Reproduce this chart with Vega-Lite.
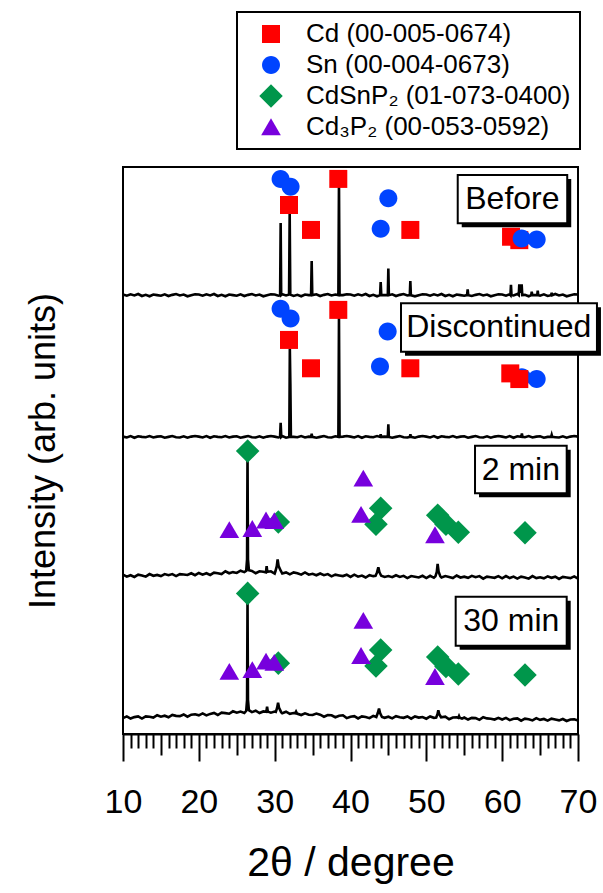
{
  "$schema": "https://vega.github.io/schema/vega-lite/v6.json",
  "autosize": {"type": "none"},
  "padding": {"left": 123, "top": 167, "right": 25, "bottom": 159},
  "width": 455,
  "height": 567,
  "config": {
    "font": "Liberation Sans",
    "view": {"stroke": "black", "strokeWidth": 2},
    "axis": {"grid": false},
    "legend": {"strokeWidth": 2}
  },
  "datasets": {
    "traces": [
      {"sample":"Before","angle":10,"intensity":77.5},{"sample":"Before","angle":10.5,"intensity":77.3},{"sample":"Before","angle":11,"intensity":77.55},{"sample":"Before","angle":11.5,"intensity":77.35},{"sample":"Before","angle":12,"intensity":77.6},{"sample":"Before","angle":12.5,"intensity":77.25},{"sample":"Before","angle":13,"intensity":77.45},{"sample":"Before","angle":13.5,"intensity":77.2},{"sample":"Before","angle":14,"intensity":77.5},{"sample":"Before","angle":14.5,"intensity":77.4},{"sample":"Before","angle":15,"intensity":77.3},{"sample":"Before","angle":15.5,"intensity":77.55},{"sample":"Before","angle":16,"intensity":77.25},{"sample":"Before","angle":16.5,"intensity":77.45},{"sample":"Before","angle":17,"intensity":77.6},{"sample":"Before","angle":17.5,"intensity":77.35},{"sample":"Before","angle":18,"intensity":77.5},{"sample":"Before","angle":18.5,"intensity":77.2},{"sample":"Before","angle":19,"intensity":77.4},{"sample":"Before","angle":19.5,"intensity":77.55},{"sample":"Before","angle":20,"intensity":77.5},{"sample":"Before","angle":20.5,"intensity":77.3},{"sample":"Before","angle":21,"intensity":77.55},{"sample":"Before","angle":21.5,"intensity":77.35},{"sample":"Before","angle":22,"intensity":77.6},{"sample":"Before","angle":22.5,"intensity":77.25},{"sample":"Before","angle":23,"intensity":77.45},{"sample":"Before","angle":23.5,"intensity":77.2},{"sample":"Before","angle":24,"intensity":77.5},{"sample":"Before","angle":24.5,"intensity":77.4},{"sample":"Before","angle":25,"intensity":77.3},{"sample":"Before","angle":25.5,"intensity":77.55},{"sample":"Before","angle":26,"intensity":77.25},{"sample":"Before","angle":26.5,"intensity":77.45},{"sample":"Before","angle":27,"intensity":77.6},{"sample":"Before","angle":27.5,"intensity":77.35},{"sample":"Before","angle":28,"intensity":77.5},{"sample":"Before","angle":28.5,"intensity":77.2},{"sample":"Before","angle":29,"intensity":77.4},{"sample":"Before","angle":29.5,"intensity":77.55},{"sample":"Before","angle":30,"intensity":77.5},{"sample":"Before","angle":30.5,"intensity":77.3},{"sample":"Before","angle":30.72,"intensity":77.4},{"sample":"Before","angle":30.79,"intensity":90.1},{"sample":"Before","angle":30.86,"intensity":77.4},{"sample":"Before","angle":31,"intensity":77.55},{"sample":"Before","angle":31.5,"intensity":77.35},{"sample":"Before","angle":31.9,"intensity":77.5},{"sample":"Before","angle":31.98,"intensity":91.9},{"sample":"Before","angle":32.06,"intensity":77.5},{"sample":"Before","angle":32.5,"intensity":77.25},{"sample":"Before","angle":33,"intensity":77.45},{"sample":"Before","angle":33.5,"intensity":77.2},{"sample":"Before","angle":34,"intensity":77.5},{"sample":"Before","angle":34.5,"intensity":77.4},{"sample":"Before","angle":34.8,"intensity":77.4},{"sample":"Before","angle":34.88,"intensity":83.4},{"sample":"Before","angle":34.96,"intensity":77.4},{"sample":"Before","angle":35.5,"intensity":77.55},{"sample":"Before","angle":36,"intensity":77.25},{"sample":"Before","angle":36.5,"intensity":77.45},{"sample":"Before","angle":37,"intensity":77.6},{"sample":"Before","angle":37.5,"intensity":77.35},{"sample":"Before","angle":38,"intensity":77.5},{"sample":"Before","angle":38.4,"intensity":77.4},{"sample":"Before","angle":38.48,"intensity":97.5},{"sample":"Before","angle":38.56,"intensity":77.4},{"sample":"Before","angle":39,"intensity":77.4},{"sample":"Before","angle":39.5,"intensity":77.55},{"sample":"Before","angle":40,"intensity":77.5},{"sample":"Before","angle":40.5,"intensity":77.3},{"sample":"Before","angle":41,"intensity":77.55},{"sample":"Before","angle":41.5,"intensity":77.35},{"sample":"Before","angle":42,"intensity":77.6},{"sample":"Before","angle":42.5,"intensity":77.25},{"sample":"Before","angle":43,"intensity":77.45},{"sample":"Before","angle":43.5,"intensity":77.2},{"sample":"Before","angle":43.9,"intensity":77.4},{"sample":"Before","angle":43.98,"intensity":79.7},{"sample":"Before","angle":44.06,"intensity":77.4},{"sample":"Before","angle":44.5,"intensity":77.4},{"sample":"Before","angle":44.92,"intensity":77.4},{"sample":"Before","angle":44.99,"intensity":82.1},{"sample":"Before","angle":45.06,"intensity":77.4},{"sample":"Before","angle":45.5,"intensity":77.55},{"sample":"Before","angle":46,"intensity":77.25},{"sample":"Before","angle":46.5,"intensity":77.45},{"sample":"Before","angle":47,"intensity":77.6},{"sample":"Before","angle":47.5,"intensity":77.35},{"sample":"Before","angle":47.82,"intensity":77.4},{"sample":"Before","angle":47.89,"intensity":79.9},{"sample":"Before","angle":47.96,"intensity":77.4},{"sample":"Before","angle":48.5,"intensity":77.2},{"sample":"Before","angle":49,"intensity":77.4},{"sample":"Before","angle":49.5,"intensity":77.55},{"sample":"Before","angle":50,"intensity":77.5},{"sample":"Before","angle":50.5,"intensity":77.3},{"sample":"Before","angle":51,"intensity":77.55},{"sample":"Before","angle":51.5,"intensity":77.35},{"sample":"Before","angle":52,"intensity":77.6},{"sample":"Before","angle":52.5,"intensity":77.25},{"sample":"Before","angle":53,"intensity":77.45},{"sample":"Before","angle":53.5,"intensity":77.2},{"sample":"Before","angle":54,"intensity":77.5},{"sample":"Before","angle":54.5,"intensity":77.4},{"sample":"Before","angle":55,"intensity":77.3},{"sample":"Before","angle":55.37,"intensity":77.4},{"sample":"Before","angle":55.45,"intensity":78.4},{"sample":"Before","angle":55.53,"intensity":77.4},{"sample":"Before","angle":56,"intensity":77.25},{"sample":"Before","angle":56.5,"intensity":77.45},{"sample":"Before","angle":57,"intensity":77.6},{"sample":"Before","angle":57.5,"intensity":77.35},{"sample":"Before","angle":58,"intensity":77.5},{"sample":"Before","angle":58.5,"intensity":77.2},{"sample":"Before","angle":59,"intensity":77.4},{"sample":"Before","angle":59.5,"intensity":77.55},{"sample":"Before","angle":60,"intensity":77.5},{"sample":"Before","angle":60.5,"intensity":77.3},{"sample":"Before","angle":61,"intensity":77.55},{"sample":"Before","angle":61.09,"intensity":77.4},{"sample":"Before","angle":61.16,"intensity":79.2},{"sample":"Before","angle":61.23,"intensity":77.4},{"sample":"Before","angle":61.5,"intensity":77.35},{"sample":"Before","angle":62,"intensity":77.6},{"sample":"Before","angle":62.19,"intensity":77.4},{"sample":"Before","angle":62.26,"intensity":79.3},{"sample":"Before","angle":62.4,"intensity":77.8},{"sample":"Before","angle":62.57,"intensity":79.3},{"sample":"Before","angle":62.65,"intensity":77.4},{"sample":"Before","angle":63,"intensity":77.45},{"sample":"Before","angle":63.5,"intensity":77.2},{"sample":"Before","angle":63.83,"intensity":77.4},{"sample":"Before","angle":63.9,"intensity":78.0},{"sample":"Before","angle":63.97,"intensity":77.4},{"sample":"Before","angle":64.5,"intensity":77.4},{"sample":"Before","angle":64.62,"intensity":77.4},{"sample":"Before","angle":64.69,"intensity":78.2},{"sample":"Before","angle":64.76,"intensity":77.4},{"sample":"Before","angle":65,"intensity":77.3},{"sample":"Before","angle":65.5,"intensity":77.55},{"sample":"Before","angle":66,"intensity":77.25},{"sample":"Before","angle":66.46,"intensity":77.4},{"sample":"Before","angle":66.53,"intensity":77.8},{"sample":"Before","angle":66.6,"intensity":77.4},{"sample":"Before","angle":67,"intensity":77.6},{"sample":"Before","angle":67.5,"intensity":77.35},{"sample":"Before","angle":68,"intensity":77.5},{"sample":"Before","angle":68.5,"intensity":77.2},{"sample":"Before","angle":69,"intensity":77.4},{"sample":"Before","angle":69.5,"intensity":77.55},{"sample":"Before","angle":70,"intensity":77.5},

      {"sample":"Discontinued","angle":10,"intensity":52.45},{"sample":"Discontinued","angle":10.5,"intensity":52.3},{"sample":"Discontinued","angle":11,"intensity":52.55},{"sample":"Discontinued","angle":11.5,"intensity":52.25},{"sample":"Discontinued","angle":12,"intensity":52.5},{"sample":"Discontinued","angle":12.5,"intensity":52.4},{"sample":"Discontinued","angle":13,"intensity":52.35},{"sample":"Discontinued","angle":13.5,"intensity":52.55},{"sample":"Discontinued","angle":14,"intensity":52.3},{"sample":"Discontinued","angle":14.5,"intensity":52.45},{"sample":"Discontinued","angle":15,"intensity":52.5},{"sample":"Discontinued","angle":15.5,"intensity":52.25},{"sample":"Discontinued","angle":16,"intensity":52.4},{"sample":"Discontinued","angle":16.5,"intensity":52.55},{"sample":"Discontinued","angle":17,"intensity":52.35},{"sample":"Discontinued","angle":17.5,"intensity":52.3},{"sample":"Discontinued","angle":18,"intensity":52.5},{"sample":"Discontinued","angle":18.5,"intensity":52.25},{"sample":"Discontinued","angle":19,"intensity":52.45},{"sample":"Discontinued","angle":19.5,"intensity":52.55},{"sample":"Discontinued","angle":20,"intensity":52.45},{"sample":"Discontinued","angle":20.5,"intensity":52.3},{"sample":"Discontinued","angle":21,"intensity":52.55},{"sample":"Discontinued","angle":21.5,"intensity":52.25},{"sample":"Discontinued","angle":22,"intensity":52.5},{"sample":"Discontinued","angle":22.5,"intensity":52.4},{"sample":"Discontinued","angle":23,"intensity":52.35},{"sample":"Discontinued","angle":23.5,"intensity":52.55},{"sample":"Discontinued","angle":24,"intensity":52.3},{"sample":"Discontinued","angle":24.5,"intensity":52.45},{"sample":"Discontinued","angle":25,"intensity":52.5},{"sample":"Discontinued","angle":25.5,"intensity":52.25},{"sample":"Discontinued","angle":26,"intensity":52.4},{"sample":"Discontinued","angle":26.5,"intensity":52.55},{"sample":"Discontinued","angle":27,"intensity":52.35},{"sample":"Discontinued","angle":27.5,"intensity":52.3},{"sample":"Discontinued","angle":28,"intensity":52.5},{"sample":"Discontinued","angle":28.5,"intensity":52.25},{"sample":"Discontinued","angle":29,"intensity":52.45},{"sample":"Discontinued","angle":29.5,"intensity":52.55},{"sample":"Discontinued","angle":30,"intensity":52.45},{"sample":"Discontinued","angle":30.5,"intensity":52.3},{"sample":"Discontinued","angle":30.71,"intensity":52.4},{"sample":"Discontinued","angle":30.79,"intensity":54.9},{"sample":"Discontinued","angle":30.87,"intensity":52.4},{"sample":"Discontinued","angle":31,"intensity":52.55},{"sample":"Discontinued","angle":31.5,"intensity":52.25},{"sample":"Discontinued","angle":31.93,"intensity":52.4},{"sample":"Discontinued","angle":32.0,"intensity":68.0},{"sample":"Discontinued","angle":32.07,"intensity":61.8},{"sample":"Discontinued","angle":32.14,"intensity":52.4},{"sample":"Discontinued","angle":32.5,"intensity":52.4},{"sample":"Discontinued","angle":33,"intensity":52.35},{"sample":"Discontinued","angle":33.5,"intensity":52.55},{"sample":"Discontinued","angle":34,"intensity":52.3},{"sample":"Discontinued","angle":34.5,"intensity":52.45},{"sample":"Discontinued","angle":34.82,"intensity":52.4},{"sample":"Discontinued","angle":34.88,"intensity":52.95},{"sample":"Discontinued","angle":34.94,"intensity":52.4},{"sample":"Discontinued","angle":35.5,"intensity":52.25},{"sample":"Discontinued","angle":36,"intensity":52.4},{"sample":"Discontinued","angle":36.5,"intensity":52.55},{"sample":"Discontinued","angle":37,"intensity":52.35},{"sample":"Discontinued","angle":37.5,"intensity":52.3},{"sample":"Discontinued","angle":38,"intensity":52.5},{"sample":"Discontinued","angle":38.4,"intensity":52.4},{"sample":"Discontinued","angle":38.48,"intensity":73.5},{"sample":"Discontinued","angle":38.56,"intensity":52.4},{"sample":"Discontinued","angle":39,"intensity":52.45},{"sample":"Discontinued","angle":39.5,"intensity":52.55},{"sample":"Discontinued","angle":40,"intensity":52.45},{"sample":"Discontinued","angle":40.5,"intensity":52.3},{"sample":"Discontinued","angle":41,"intensity":52.55},{"sample":"Discontinued","angle":41.5,"intensity":52.25},{"sample":"Discontinued","angle":42,"intensity":52.5},{"sample":"Discontinued","angle":42.5,"intensity":52.4},{"sample":"Discontinued","angle":43,"intensity":52.35},{"sample":"Discontinued","angle":43.5,"intensity":52.55},{"sample":"Discontinued","angle":43.92,"intensity":52.4},{"sample":"Discontinued","angle":43.98,"intensity":52.85},{"sample":"Discontinued","angle":44.04,"intensity":52.4},{"sample":"Discontinued","angle":44.5,"intensity":52.45},{"sample":"Discontinued","angle":44.92,"intensity":52.4},{"sample":"Discontinued","angle":44.99,"intensity":54.6},{"sample":"Discontinued","angle":45.06,"intensity":52.4},{"sample":"Discontinued","angle":45.5,"intensity":52.25},{"sample":"Discontinued","angle":46,"intensity":52.4},{"sample":"Discontinued","angle":46.5,"intensity":52.55},{"sample":"Discontinued","angle":47,"intensity":52.35},{"sample":"Discontinued","angle":47.5,"intensity":52.3},{"sample":"Discontinued","angle":47.84,"intensity":52.4},{"sample":"Discontinued","angle":47.9,"intensity":52.85},{"sample":"Discontinued","angle":47.96,"intensity":52.4},{"sample":"Discontinued","angle":48.5,"intensity":52.25},{"sample":"Discontinued","angle":49,"intensity":52.45},{"sample":"Discontinued","angle":49.5,"intensity":52.55},{"sample":"Discontinued","angle":50,"intensity":52.45},{"sample":"Discontinued","angle":50.5,"intensity":52.3},{"sample":"Discontinued","angle":51,"intensity":52.55},{"sample":"Discontinued","angle":51.5,"intensity":52.25},{"sample":"Discontinued","angle":52,"intensity":52.5},{"sample":"Discontinued","angle":52.5,"intensity":52.4},{"sample":"Discontinued","angle":53,"intensity":52.35},{"sample":"Discontinued","angle":53.5,"intensity":52.55},{"sample":"Discontinued","angle":54,"intensity":52.3},{"sample":"Discontinued","angle":54.5,"intensity":52.45},{"sample":"Discontinued","angle":55,"intensity":52.5},{"sample":"Discontinued","angle":55.5,"intensity":52.25},{"sample":"Discontinued","angle":56,"intensity":52.4},{"sample":"Discontinued","angle":56.5,"intensity":52.55},{"sample":"Discontinued","angle":57,"intensity":52.35},{"sample":"Discontinued","angle":57.5,"intensity":52.3},{"sample":"Discontinued","angle":58,"intensity":52.5},{"sample":"Discontinued","angle":58.5,"intensity":52.25},{"sample":"Discontinued","angle":59,"intensity":52.45},{"sample":"Discontinued","angle":59.5,"intensity":52.55},{"sample":"Discontinued","angle":60,"intensity":52.45},{"sample":"Discontinued","angle":60.5,"intensity":52.3},{"sample":"Discontinued","angle":61,"intensity":52.55},{"sample":"Discontinued","angle":61.5,"intensity":52.25},{"sample":"Discontinued","angle":62,"intensity":52.5},{"sample":"Discontinued","angle":62.52,"intensity":52.4},{"sample":"Discontinued","angle":62.6,"intensity":53.0},{"sample":"Discontinued","angle":62.68,"intensity":52.4},{"sample":"Discontinued","angle":63,"intensity":52.35},{"sample":"Discontinued","angle":63.5,"intensity":52.55},{"sample":"Discontinued","angle":64,"intensity":52.3},{"sample":"Discontinued","angle":64.5,"intensity":52.45},{"sample":"Discontinued","angle":65,"intensity":52.5},{"sample":"Discontinued","angle":65.5,"intensity":52.25},{"sample":"Discontinued","angle":66,"intensity":52.4},{"sample":"Discontinued","angle":66.46,"intensity":52.4},{"sample":"Discontinued","angle":66.53,"intensity":52.75},{"sample":"Discontinued","angle":66.6,"intensity":52.4},{"sample":"Discontinued","angle":67,"intensity":52.35},{"sample":"Discontinued","angle":67.5,"intensity":52.3},{"sample":"Discontinued","angle":68,"intensity":52.5},{"sample":"Discontinued","angle":68.5,"intensity":52.25},{"sample":"Discontinued","angle":69,"intensity":52.45},{"sample":"Discontinued","angle":69.5,"intensity":52.55},{"sample":"Discontinued","angle":70,"intensity":52.45},

      {"sample":"2 min","angle":10,"intensity":28.1},{"sample":"2 min","angle":10.5,"intensity":27.75},{"sample":"2 min","angle":11,"intensity":28.0},{"sample":"2 min","angle":11.5,"intensity":27.7},{"sample":"2 min","angle":12,"intensity":28.1},{"sample":"2 min","angle":12.5,"intensity":27.95},{"sample":"2 min","angle":13,"intensity":27.75},{"sample":"2 min","angle":13.5,"intensity":28.2},{"sample":"2 min","angle":14,"intensity":27.9},{"sample":"2 min","angle":14.5,"intensity":28.05},{"sample":"2 min","angle":15,"intensity":27.85},{"sample":"2 min","angle":15.5,"intensity":28.2},{"sample":"2 min","angle":16,"intensity":28.0},{"sample":"2 min","angle":16.5,"intensity":28.2},{"sample":"2 min","angle":17,"intensity":27.85},{"sample":"2 min","angle":17.5,"intensity":28.2},{"sample":"2 min","angle":18,"intensity":28.12},{"sample":"2 min","angle":18.5,"intensity":28.05},{"sample":"2 min","angle":19,"intensity":28.35},{"sample":"2 min","angle":19.5,"intensity":28.0},{"sample":"2 min","angle":20,"intensity":28.4},{"sample":"2 min","angle":20.5,"intensity":28.1},{"sample":"2 min","angle":21,"intensity":28.35},{"sample":"2 min","angle":21.5,"intensity":28.05},{"sample":"2 min","angle":22,"intensity":28.45},{"sample":"2 min","angle":22.5,"intensity":28.35},{"sample":"2 min","angle":23,"intensity":28.2},{"sample":"2 min","angle":23.5,"intensity":28.7},{"sample":"2 min","angle":24,"intensity":28.35},{"sample":"2 min","angle":24.5,"intensity":28.55},{"sample":"2 min","angle":25,"intensity":28.4},{"sample":"2 min","angle":25.5,"intensity":28.8},{"sample":"2 min","angle":26,"intensity":28.55},{"sample":"2 min","angle":26.25,"intensity":28.8},{"sample":"2 min","angle":26.36,"intensity":30.8},{"sample":"2 min","angle":26.42,"intensity":49.5},{"sample":"2 min","angle":26.48,"intensity":30.8},{"sample":"2 min","angle":26.6,"intensity":28.9},{"sample":"2 min","angle":27,"intensity":28.75},{"sample":"2 min","angle":27.5,"intensity":28.35},{"sample":"2 min","angle":28,"intensity":28.7},{"sample":"2 min","angle":28.5,"intensity":28.6},{"sample":"2 min","angle":28.85,"intensity":28.5},{"sample":"2 min","angle":28.94,"intensity":29.6},{"sample":"2 min","angle":29.03,"intensity":28.6},{"sample":"2 min","angle":29.5,"intensity":28.7},{"sample":"2 min","angle":30,"intensity":28.3},{"sample":"2 min","angle":30.1,"intensity":28.7},{"sample":"2 min","angle":30.28,"intensity":29.6},{"sample":"2 min","angle":30.39,"intensity":30.8},{"sample":"2 min","angle":30.52,"intensity":29.6},{"sample":"2 min","angle":30.8,"intensity":28.8},{"sample":"2 min","angle":31,"intensity":28.3},{"sample":"2 min","angle":31.5,"intensity":28.5},{"sample":"2 min","angle":32,"intensity":28.15},{"sample":"2 min","angle":32.5,"intensity":28.5},{"sample":"2 min","angle":33,"intensity":28.35},{"sample":"2 min","angle":33.5,"intensity":28.1},{"sample":"2 min","angle":34,"intensity":28.5},{"sample":"2 min","angle":34.5,"intensity":28.1},{"sample":"2 min","angle":35,"intensity":28.25},{"sample":"2 min","angle":35.5,"intensity":28.0},{"sample":"2 min","angle":36,"intensity":28.3},{"sample":"2 min","angle":36.5,"intensity":28.0},{"sample":"2 min","angle":37,"intensity":28.2},{"sample":"2 min","angle":37.5,"intensity":27.8},{"sample":"2 min","angle":38,"intensity":28.1},{"sample":"2 min","angle":38.5,"intensity":27.97},{"sample":"2 min","angle":39,"intensity":27.85},{"sample":"2 min","angle":39.5,"intensity":28.1},{"sample":"2 min","angle":40,"intensity":27.7},{"sample":"2 min","angle":40.5,"intensity":28.1},{"sample":"2 min","angle":41,"intensity":27.75},{"sample":"2 min","angle":41.5,"intensity":27.95},{"sample":"2 min","angle":42,"intensity":27.6},{"sample":"2 min","angle":42.5,"intensity":28.0},{"sample":"2 min","angle":43,"intensity":27.84},{"sample":"2 min","angle":43.3,"intensity":27.9},{"sample":"2 min","angle":43.5,"intensity":28.5},{"sample":"2 min","angle":43.67,"intensity":29.4},{"sample":"2 min","angle":43.82,"intensity":28.5},{"sample":"2 min","angle":44.05,"intensity":27.9},{"sample":"2 min","angle":44.5,"intensity":27.7},{"sample":"2 min","angle":45,"intensity":27.85},{"sample":"2 min","angle":45.5,"intensity":27.65},{"sample":"2 min","angle":46,"intensity":28.0},{"sample":"2 min","angle":46.5,"intensity":27.7},{"sample":"2 min","angle":47,"intensity":27.9},{"sample":"2 min","angle":47.5,"intensity":27.5},{"sample":"2 min","angle":48,"intensity":27.85},{"sample":"2 min","angle":48.5,"intensity":27.73},{"sample":"2 min","angle":49,"intensity":27.6},{"sample":"2 min","angle":49.5,"intensity":27.9},{"sample":"2 min","angle":50,"intensity":27.5},{"sample":"2 min","angle":50.5,"intensity":27.9},{"sample":"2 min","angle":51,"intensity":27.55},{"sample":"2 min","angle":51.2,"intensity":27.8},{"sample":"2 min","angle":51.38,"intensity":28.6},{"sample":"2 min","angle":51.49,"intensity":30.0},{"sample":"2 min","angle":51.62,"intensity":28.6},{"sample":"2 min","angle":51.85,"intensity":27.8},{"sample":"2 min","angle":52,"intensity":27.6},{"sample":"2 min","angle":52.5,"intensity":27.85},{"sample":"2 min","angle":53,"intensity":27.7},{"sample":"2 min","angle":53.5,"intensity":27.5},{"sample":"2 min","angle":54,"intensity":27.95},{"sample":"2 min","angle":54.5,"intensity":27.6},{"sample":"2 min","angle":55,"intensity":27.75},{"sample":"2 min","angle":55.5,"intensity":27.55},{"sample":"2 min","angle":56,"intensity":27.9},{"sample":"2 min","angle":56.5,"intensity":27.65},{"sample":"2 min","angle":57,"intensity":27.85},{"sample":"2 min","angle":57.5,"intensity":27.4},{"sample":"2 min","angle":58,"intensity":27.75},{"sample":"2 min","angle":58.5,"intensity":27.66},{"sample":"2 min","angle":59,"intensity":27.55},{"sample":"2 min","angle":59.5,"intensity":27.85},{"sample":"2 min","angle":60,"intensity":27.45},{"sample":"2 min","angle":60.5,"intensity":27.85},{"sample":"2 min","angle":61,"intensity":27.5},{"sample":"2 min","angle":61.5,"intensity":27.75},{"sample":"2 min","angle":62,"intensity":27.4},{"sample":"2 min","angle":62.5,"intensity":27.75},{"sample":"2 min","angle":63,"intensity":27.62},{"sample":"2 min","angle":63.5,"intensity":27.4},{"sample":"2 min","angle":64,"intensity":27.85},{"sample":"2 min","angle":64.5,"intensity":27.5},{"sample":"2 min","angle":65,"intensity":27.65},{"sample":"2 min","angle":65.5,"intensity":27.45},{"sample":"2 min","angle":66,"intensity":27.8},{"sample":"2 min","angle":66.5,"intensity":27.55},{"sample":"2 min","angle":67,"intensity":27.75},{"sample":"2 min","angle":67.5,"intensity":27.35},{"sample":"2 min","angle":68,"intensity":27.7},{"sample":"2 min","angle":68.5,"intensity":27.6},{"sample":"2 min","angle":69,"intensity":27.5},{"sample":"2 min","angle":69.5,"intensity":27.8},{"sample":"2 min","angle":70,"intensity":27.4},

      {"sample":"30 min","angle":10,"intensity":2.8},{"sample":"30 min","angle":10.5,"intensity":3.1},{"sample":"30 min","angle":11,"intensity":2.72},{"sample":"30 min","angle":11.5,"intensity":2.98},{"sample":"30 min","angle":12,"intensity":3.1},{"sample":"30 min","angle":12.5,"intensity":2.72},{"sample":"30 min","angle":13,"intensity":3.1},{"sample":"30 min","angle":13.5,"intensity":3.03},{"sample":"30 min","angle":14,"intensity":2.9},{"sample":"30 min","angle":14.5,"intensity":3.32},{"sample":"30 min","angle":15,"intensity":3.05},{"sample":"30 min","angle":15.5,"intensity":3.23},{"sample":"30 min","angle":16,"intensity":2.95},{"sample":"30 min","angle":16.5,"intensity":3.37},{"sample":"30 min","angle":17,"intensity":3.2},{"sample":"30 min","angle":17.5,"intensity":3.15},{"sample":"30 min","angle":18,"intensity":3.45},{"sample":"30 min","angle":18.5,"intensity":3.05},{"sample":"30 min","angle":19,"intensity":3.4},{"sample":"30 min","angle":19.5,"intensity":3.47},{"sample":"30 min","angle":20,"intensity":3.3},{"sample":"30 min","angle":20.5,"intensity":3.64},{"sample":"30 min","angle":21,"intensity":3.28},{"sample":"30 min","angle":21.5,"intensity":3.55},{"sample":"30 min","angle":22,"intensity":3.72},{"sample":"30 min","angle":22.5,"intensity":3.35},{"sample":"30 min","angle":23,"intensity":3.76},{"sample":"30 min","angle":23.5,"intensity":3.68},{"sample":"30 min","angle":24,"intensity":3.57},{"sample":"30 min","angle":24.5,"intensity":4.0},{"sample":"30 min","angle":25,"intensity":3.75},{"sample":"30 min","angle":25.5,"intensity":3.95},{"sample":"30 min","angle":26,"intensity":3.7},{"sample":"30 min","angle":26.25,"intensity":4.1},{"sample":"30 min","angle":26.36,"intensity":6.0},{"sample":"30 min","angle":26.42,"intensity":23.5},{"sample":"30 min","angle":26.48,"intensity":6.0},{"sample":"30 min","angle":26.6,"intensity":4.2},{"sample":"30 min","angle":27,"intensity":3.85},{"sample":"30 min","angle":27.5,"intensity":4.1},{"sample":"30 min","angle":28,"intensity":3.7},{"sample":"30 min","angle":28.5,"intensity":3.98},{"sample":"30 min","angle":28.9,"intensity":3.9},{"sample":"30 min","angle":29.0,"intensity":4.8},{"sample":"30 min","angle":29.1,"intensity":3.95},{"sample":"30 min","angle":29.5,"intensity":3.75},{"sample":"30 min","angle":30,"intensity":3.95},{"sample":"30 min","angle":30.15,"intensity":3.9},{"sample":"30 min","angle":30.32,"intensity":4.6},{"sample":"30 min","angle":30.45,"intensity":5.5},{"sample":"30 min","angle":30.58,"intensity":4.6},{"sample":"30 min","angle":30.85,"intensity":3.85},{"sample":"30 min","angle":31,"intensity":3.65},{"sample":"30 min","angle":31.5,"intensity":3.93},{"sample":"30 min","angle":32,"intensity":3.55},{"sample":"30 min","angle":32.5,"intensity":3.7},{"sample":"30 min","angle":32.7,"intensity":3.65},{"sample":"30 min","angle":32.82,"intensity":3.95},{"sample":"30 min","angle":32.95,"intensity":3.6},{"sample":"30 min","angle":33.5,"intensity":3.35},{"sample":"30 min","angle":34,"intensity":3.65},{"sample":"30 min","angle":34.5,"intensity":3.4},{"sample":"30 min","angle":35,"intensity":3.35},{"sample":"30 min","angle":35.5,"intensity":3.6},{"sample":"30 min","angle":36,"intensity":3.4},{"sample":"30 min","angle":36.5,"intensity":3.05},{"sample":"30 min","angle":37,"intensity":3.35},{"sample":"30 min","angle":37.5,"intensity":3.3},{"sample":"30 min","angle":38,"intensity":2.95},{"sample":"30 min","angle":38.5,"intensity":3.23},{"sample":"30 min","angle":39,"intensity":3.3},{"sample":"30 min","angle":39.5,"intensity":2.8},{"sample":"30 min","angle":40,"intensity":3.05},{"sample":"30 min","angle":40.5,"intensity":3.15},{"sample":"30 min","angle":41,"intensity":2.75},{"sample":"30 min","angle":41.5,"intensity":3.1},{"sample":"30 min","angle":42,"intensity":3.0},{"sample":"30 min","angle":42.5,"intensity":2.8},{"sample":"30 min","angle":43,"intensity":3.2},{"sample":"30 min","angle":43.4,"intensity":3.0},{"sample":"30 min","angle":43.6,"intensity":3.7},{"sample":"30 min","angle":43.76,"intensity":4.5},{"sample":"30 min","angle":43.9,"intensity":3.7},{"sample":"30 min","angle":44.15,"intensity":3.0},{"sample":"30 min","angle":44.5,"intensity":2.85},{"sample":"30 min","angle":45,"intensity":3.05},{"sample":"30 min","angle":45.5,"intensity":2.75},{"sample":"30 min","angle":46,"intensity":3.15},{"sample":"30 min","angle":46.5,"intensity":2.95},{"sample":"30 min","angle":47,"intensity":2.85},{"sample":"30 min","angle":47.5,"intensity":3.1},{"sample":"30 min","angle":48,"intensity":2.7},{"sample":"30 min","angle":48.5,"intensity":3.1},{"sample":"30 min","angle":49,"intensity":2.9},{"sample":"30 min","angle":49.5,"intensity":3.0},{"sample":"30 min","angle":50,"intensity":2.7},{"sample":"30 min","angle":50.5,"intensity":3.1},{"sample":"30 min","angle":51,"intensity":2.85},{"sample":"30 min","angle":51.3,"intensity":2.9},{"sample":"30 min","angle":51.47,"intensity":3.5},{"sample":"30 min","angle":51.58,"intensity":4.2},{"sample":"30 min","angle":51.7,"intensity":3.5},{"sample":"30 min","angle":51.95,"intensity":2.95},{"sample":"30 min","angle":52.5,"intensity":3.05},{"sample":"30 min","angle":53,"intensity":2.6},{"sample":"30 min","angle":53.5,"intensity":2.9},{"sample":"30 min","angle":54,"intensity":2.95},{"sample":"30 min","angle":54.22,"intensity":2.85},{"sample":"30 min","angle":54.31,"intensity":3.15},{"sample":"30 min","angle":54.4,"intensity":2.85},{"sample":"30 min","angle":54.7,"intensity":2.7},{"sample":"30 min","angle":55,"intensity":2.9},{"sample":"30 min","angle":55.5,"intensity":2.55},{"sample":"30 min","angle":56,"intensity":2.85},{"sample":"30 min","angle":56.5,"intensity":2.8},{"sample":"30 min","angle":57,"intensity":2.5},{"sample":"30 min","angle":57.5,"intensity":2.95},{"sample":"30 min","angle":58,"intensity":2.75},{"sample":"30 min","angle":58.5,"intensity":2.7},{"sample":"30 min","angle":59,"intensity":2.55},{"sample":"30 min","angle":59.5,"intensity":2.85},{"sample":"30 min","angle":60,"intensity":2.55},{"sample":"30 min","angle":60.5,"intensity":2.85},{"sample":"30 min","angle":61,"intensity":2.45},{"sample":"30 min","angle":61.5,"intensity":2.7},{"sample":"30 min","angle":62,"intensity":2.75},{"sample":"30 min","angle":62.5,"intensity":2.35},{"sample":"30 min","angle":63,"intensity":2.7},{"sample":"30 min","angle":63.5,"intensity":2.6},{"sample":"30 min","angle":64,"intensity":2.4},{"sample":"30 min","angle":64.5,"intensity":2.8},{"sample":"30 min","angle":65,"intensity":2.5},{"sample":"30 min","angle":65.5,"intensity":2.65},{"sample":"30 min","angle":66,"intensity":2.35},{"sample":"30 min","angle":66.5,"intensity":2.7},{"sample":"30 min","angle":67,"intensity":2.55},{"sample":"30 min","angle":67.5,"intensity":2.4},{"sample":"30 min","angle":68,"intensity":2.65},{"sample":"30 min","angle":68.5,"intensity":2.3},{"sample":"30 min","angle":69,"intensity":2.55},{"sample":"30 min","angle":69.5,"intensity":2.6},{"sample":"30 min","angle":70,"intensity":2.4}
    ],
    "markers": [
      {"sample":"Before","phase":"Cd (00-005-0674)","angle":31.89,"intensity":93.3},
      {"sample":"Before","phase":"Cd (00-005-0674)","angle":34.79,"intensity":88.9},
      {"sample":"Before","phase":"Cd (00-005-0674)","angle":38.39,"intensity":97.9},
      {"sample":"Before","phase":"Cd (00-005-0674)","angle":47.89,"intensity":88.9},
      {"sample":"Before","phase":"Cd (00-005-0674)","angle":61.17,"intensity":87.7},
      {"sample":"Before","phase":"Cd (00-005-0674)","angle":62.26,"intensity":87.1},
      {"sample":"Before","phase":"Sn (00-004-0673)","angle":30.78,"intensity":97.9},
      {"sample":"Before","phase":"Sn (00-004-0673)","angle":32.1,"intensity":96.5},
      {"sample":"Before","phase":"Sn (00-004-0673)","angle":44.99,"intensity":94.5},
      {"sample":"Before","phase":"Sn (00-004-0673)","angle":43.98,"intensity":89.1},
      {"sample":"Before","phase":"Sn (00-004-0673)","angle":62.57,"intensity":87.4},
      {"sample":"Before","phase":"Sn (00-004-0673)","angle":64.55,"intensity":87.2},
      {"sample":"Discontinued","phase":"Sn (00-004-0673)","angle":30.78,"intensity":75.0},
      {"sample":"Discontinued","phase":"Sn (00-004-0673)","angle":32.1,"intensity":73.3},
      {"sample":"Discontinued","phase":"Sn (00-004-0673)","angle":44.9,"intensity":71.0},
      {"sample":"Discontinued","phase":"Sn (00-004-0673)","angle":43.89,"intensity":64.8},
      {"sample":"Discontinued","phase":"Sn (00-004-0673)","angle":62.6,"intensity":62.9},
      {"sample":"Discontinued","phase":"Sn (00-004-0673)","angle":64.55,"intensity":62.6},
      {"sample":"Discontinued","phase":"Cd (00-005-0674)","angle":31.89,"intensity":69.5},
      {"sample":"Discontinued","phase":"Cd (00-005-0674)","angle":34.79,"intensity":64.5},
      {"sample":"Discontinued","phase":"Cd (00-005-0674)","angle":38.39,"intensity":74.8},
      {"sample":"Discontinued","phase":"Cd (00-005-0674)","angle":47.89,"intensity":64.5},
      {"sample":"Discontinued","phase":"Cd (00-005-0674)","angle":61.07,"intensity":63.6},
      {"sample":"Discontinued","phase":"Cd (00-005-0674)","angle":62.26,"intensity":62.6},
      {"sample":"2 min","phase":"CdSnP₂ (01-073-0400)","angle":26.44,"intensity":49.9},
      {"sample":"2 min","phase":"CdSnP₂ (01-073-0400)","angle":30.48,"intensity":37.4},
      {"sample":"2 min","phase":"CdSnP₂ (01-073-0400)","angle":43.98,"intensity":39.8},
      {"sample":"2 min","phase":"CdSnP₂ (01-073-0400)","angle":43.36,"intensity":37.0},
      {"sample":"2 min","phase":"CdSnP₂ (01-073-0400)","angle":51.5,"intensity":38.6},
      {"sample":"2 min","phase":"CdSnP₂ (01-073-0400)","angle":52.59,"intensity":37.0},
      {"sample":"2 min","phase":"CdSnP₂ (01-073-0400)","angle":54.22,"intensity":35.6},
      {"sample":"2 min","phase":"CdSnP₂ (01-073-0400)","angle":63.01,"intensity":35.5},
      {"sample":"2 min","phase":"Cd₃P₂ (00-053-0592)","angle":24.02,"intensity":36.0},
      {"sample":"2 min","phase":"Cd₃P₂ (00-053-0592)","angle":27.05,"intensity":36.2},
      {"sample":"2 min","phase":"Cd₃P₂ (00-053-0592)","angle":28.86,"intensity":37.7},
      {"sample":"2 min","phase":"Cd₃P₂ (00-053-0592)","angle":29.95,"intensity":37.6},
      {"sample":"2 min","phase":"Cd₃P₂ (00-053-0592)","angle":41.69,"intensity":45.1},
      {"sample":"2 min","phase":"Cd₃P₂ (00-053-0592)","angle":41.39,"intensity":38.7},
      {"sample":"2 min","phase":"Cd₃P₂ (00-053-0592)","angle":51.14,"intensity":35.1},
      {"sample":"30 min","phase":"CdSnP₂ (01-073-0400)","angle":26.44,"intensity":24.8},
      {"sample":"30 min","phase":"CdSnP₂ (01-073-0400)","angle":30.48,"intensity":12.5},
      {"sample":"30 min","phase":"CdSnP₂ (01-073-0400)","angle":43.98,"intensity":14.8},
      {"sample":"30 min","phase":"CdSnP₂ (01-073-0400)","angle":43.36,"intensity":12.0},
      {"sample":"30 min","phase":"CdSnP₂ (01-073-0400)","angle":51.5,"intensity":13.6},
      {"sample":"30 min","phase":"CdSnP₂ (01-073-0400)","angle":52.59,"intensity":11.9},
      {"sample":"30 min","phase":"CdSnP₂ (01-073-0400)","angle":54.22,"intensity":10.6},
      {"sample":"30 min","phase":"CdSnP₂ (01-073-0400)","angle":63.01,"intensity":10.4},
      {"sample":"30 min","phase":"Cd₃P₂ (00-053-0592)","angle":24.02,"intensity":11.0},
      {"sample":"30 min","phase":"Cd₃P₂ (00-053-0592)","angle":27.05,"intensity":11.3},
      {"sample":"30 min","phase":"Cd₃P₂ (00-053-0592)","angle":28.86,"intensity":12.8},
      {"sample":"30 min","phase":"Cd₃P₂ (00-053-0592)","angle":29.95,"intensity":12.6},
      {"sample":"30 min","phase":"Cd₃P₂ (00-053-0592)","angle":41.69,"intensity":20.0},
      {"sample":"30 min","phase":"Cd₃P₂ (00-053-0592)","angle":41.39,"intensity":13.8},
      {"sample":"30 min","phase":"Cd₃P₂ (00-053-0592)","angle":51.14,"intensity":10.1}
    ]
  },
  "resolve": {"axis": {"x": "independent", "y": "independent"}},
  "layer": [
    {
      "data": {"name": "traces"},
      "mark": {"type": "line", "color": "black", "strokeWidth": 2.6, "strokeJoin": "miter"},
      "encoding": {
        "x": {
          "field": "angle", "type": "quantitative",
          "scale": {"domain": [10, 70], "nice": false, "zero": false},
          "axis": {
            "orient": "bottom",
            "values": [10,11,12,13,14,15,16,17,18,19,20,21,22,23,24,25,26,27,28,29,30,31,32,33,34,35,36,37,38,39,40,41,42,43,44,45,46,47,48,49,50,51,52,53,54,55,56,57,58,59,60,61,62,63,64,65,66,67,68,69,70],
            "tickSize": {"condition": [{"test": "datum.value % 10 === 0", "value": 27}, {"test": "datum.value % 5 === 0", "value": 21}], "value": 14},
            "tickWidth": 2, "tickColor": "black",
            "domainColor": "black", "domainWidth": 2,
            "labelExpr": "datum.value % 10 === 0 ? datum.label : ''",
            "labelFontSize": 34, "labelColor": "black", "labelPadding": 24,
            "labelFlush": false, "labelOverlap": false,
            "title": "2θ / degree", "titleFontSize": 41, "titleFontWeight": "normal",
            "titleColor": "black", "titlePadding": 24
          }
        },
        "y": {
          "field": "intensity", "type": "quantitative",
          "scale": {"domain": [0, 100], "nice": false, "zero": false},
          "axis": {
            "orient": "left", "ticks": false, "labels": false, "domain": false, "grid": false,
            "title": "Intensity (arb. units)", "titleFontSize": 36, "titleFontWeight": "normal",
            "titleColor": "black", "titlePadding": 61
          }
        },
        "detail": {"field": "sample"}
      }
    },
    {
      "data": {"name": "markers"},
      "mark": {"type": "point", "filled": true, "size": 576, "opacity": 1, "strokeWidth": 0},
      "encoding": {
        "x": {"field": "angle", "type": "quantitative", "axis": null},
        "y": {"field": "intensity", "type": "quantitative", "axis": null},
        "color": {
          "field": "phase", "type": "nominal",
          "scale": {
            "domain": ["Cd (00-005-0674)", "Sn (00-004-0673)", "CdSnP₂ (01-073-0400)", "Cd₃P₂ (00-053-0592)"],
            "range": ["#FF0000", "#0044FF", "#00964B", "#7700DD"]
          },
          "legend": {
            "title": null, "orient": "none", "legendX": 114, "legendY": -155,
            "padding": 9, "strokeColor": "black", "fillColor": "white",
            "labelFontSize": 26, "labelColor": "black", "labelFont": "Liberation Sans", "labelLimit": 500,
            "symbolSize": 576, "symbolOffset": 12, "labelOffset": 22, "rowPadding": 5,
            "symbolStrokeWidth": 0, "symbolOpacity": 1
          }
        },
        "shape": {
          "field": "phase", "type": "nominal",
          "scale": {
            "domain": ["Cd (00-005-0674)", "Sn (00-004-0673)", "CdSnP₂ (01-073-0400)", "Cd₃P₂ (00-053-0592)"],
            "range": ["M-0.75,-0.75H0.75V0.75H-0.75Z", "M0.75,0A0.75,0.75,0,1,1,-0.75,0A0.75,0.75,0,1,1,0.75,0Z", "M0,-0.98L0.98,0L0,0.98L-0.98,0Z", "M0,-0.72L0.82,0.68L-0.82,0.68Z"]
          },
          "legend": {
            "title": null, "orient": "none", "legendX": 114, "legendY": -155,
            "padding": 9, "strokeColor": "black", "fillColor": "white",
            "labelFontSize": 26, "labelColor": "black", "labelFont": "Liberation Sans", "labelLimit": 500,
            "symbolSize": 576, "symbolOffset": 12, "labelOffset": 22, "rowPadding": 5,
            "symbolStrokeWidth": 0, "symbolOpacity": 1
          }
        }
      }
    },
    {
      "data": {"values": [{"label": "Before"}]},
      "layer": [
        {"mark": {"type": "rect", "fill": "black", "xOffset": 4, "x2Offset": 4, "yOffset": 4, "y2Offset": 4},
         "encoding": {"x": {"datum": 54.14, "type": "quantitative", "axis": null}, "x2": {"datum": 68.58}, "y": {"datum": 98.6, "type": "quantitative", "axis": null}, "y2": {"datum": 90.1}}},
        {"mark": {"type": "rect", "fill": "white", "stroke": "black", "strokeWidth": 2},
         "encoding": {"x": {"datum": 54.14, "type": "quantitative", "axis": null}, "x2": {"datum": 68.58}, "y": {"datum": 98.6, "type": "quantitative", "axis": null}, "y2": {"datum": 90.1}}},
        {"mark": {"type": "text", "fontSize": 32, "color": "black", "align": "center", "baseline": "middle"},
         "encoding": {"text": {"field": "label"}, "x": {"datum": 61.35, "type": "quantitative", "axis": null}, "y": {"datum": 94.3, "type": "quantitative", "axis": null}}}
      ]
    },
    {
      "data": {"values": [{"label": "Discontinued"}]},
      "layer": [
        {"mark": {"type": "rect", "fill": "black", "xOffset": 4, "x2Offset": 4, "yOffset": 4, "y2Offset": 4},
         "encoding": {"x": {"datum": 46.66, "type": "quantitative", "axis": null}, "x2": {"datum": 72.5}, "y": {"datum": 75.96, "type": "quantitative", "axis": null}, "y2": {"datum": 67.43}}},
        {"mark": {"type": "rect", "fill": "white", "stroke": "black", "strokeWidth": 2},
         "encoding": {"x": {"datum": 46.66, "type": "quantitative", "axis": null}, "x2": {"datum": 72.5}, "y": {"datum": 75.96, "type": "quantitative", "axis": null}, "y2": {"datum": 67.43}}},
        {"mark": {"type": "text", "fontSize": 32, "color": "black", "align": "center", "baseline": "middle"},
         "encoding": {"text": {"field": "label"}, "x": {"datum": 59.55, "type": "quantitative", "axis": null}, "y": {"datum": 71.7, "type": "quantitative", "axis": null}}}
      ]
    },
    {
      "data": {"values": [{"label": "2 min"}]},
      "layer": [
        {"mark": {"type": "rect", "fill": "black", "xOffset": 4, "x2Offset": 4, "yOffset": 4, "y2Offset": 4},
         "encoding": {"x": {"datum": 56.42, "type": "quantitative", "axis": null}, "x2": {"datum": 68.51}, "y": {"datum": 50.85, "type": "quantitative", "axis": null}, "y2": {"datum": 42.46}}},
        {"mark": {"type": "rect", "fill": "white", "stroke": "black", "strokeWidth": 2},
         "encoding": {"x": {"datum": 56.42, "type": "quantitative", "axis": null}, "x2": {"datum": 68.51}, "y": {"datum": 50.85, "type": "quantitative", "axis": null}, "y2": {"datum": 42.46}}},
        {"mark": {"type": "text", "fontSize": 32, "color": "black", "align": "center", "baseline": "middle"},
         "encoding": {"text": {"field": "label"}, "x": {"datum": 62.46, "type": "quantitative", "axis": null}, "y": {"datum": 46.6, "type": "quantitative", "axis": null}}}
      ]
    },
    {
      "data": {"values": [{"label": "30 min"}]},
      "layer": [
        {"mark": {"type": "rect", "fill": "black", "xOffset": 4, "x2Offset": 4, "yOffset": 4, "y2Offset": 4},
         "encoding": {"x": {"datum": 53.87, "type": "quantitative", "axis": null}, "x2": {"datum": 68.51}, "y": {"datum": 24.2, "type": "quantitative", "axis": null}, "y2": {"datum": 15.57}}},
        {"mark": {"type": "rect", "fill": "white", "stroke": "black", "strokeWidth": 2},
         "encoding": {"x": {"datum": 53.87, "type": "quantitative", "axis": null}, "x2": {"datum": 68.51}, "y": {"datum": 24.2, "type": "quantitative", "axis": null}, "y2": {"datum": 15.57}}},
        {"mark": {"type": "text", "fontSize": 32, "color": "black", "align": "center", "baseline": "middle"},
         "encoding": {"text": {"field": "label"}, "x": {"datum": 61.2, "type": "quantitative", "axis": null}, "y": {"datum": 19.9, "type": "quantitative", "axis": null}}}
      ]
    }
  ]
}
